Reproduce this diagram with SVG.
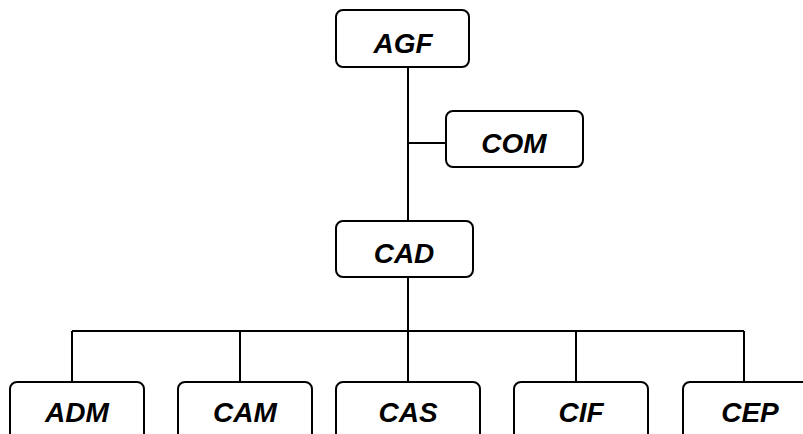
<svg xmlns="http://www.w3.org/2000/svg" width="803" height="434" viewBox="0 0 803 434">
<style>
.box{fill:#fff;stroke:#000;stroke-width:2}
.lbl{font-family:"Liberation Sans",Arial,sans-serif;font-weight:bold;font-style:italic;font-size:28px;text-anchor:middle;fill:#000}
.conn{fill:none;stroke:#000;stroke-width:2}
</style>
<rect width="803" height="434" fill="#fff"/>
<g id="connectors">
<path class="conn" d="M408 67V221M408 143H446M408 277V331M72 331H744M72 331V382M240 331V382M408 331V382M576 331V382M744 331V382"/>
</g>
<g id="AGF"><rect class="box" x="336" y="10" width="133" height="57" rx="7"/><text class="lbl" x="403" y="53">AGF</text></g>
<g id="COM"><rect class="box" x="446" y="111" width="137" height="56" rx="7"/><text class="lbl" x="514" y="153">COM</text></g>
<g id="CAD"><rect class="box" x="336" y="221" width="137" height="56" rx="7"/><text class="lbl" x="404" y="263">CAD</text></g>
<g id="ADM"><rect class="box" x="10" y="382" width="134" height="70" rx="7"/><text class="lbl" x="77" y="422">ADM</text></g>
<g id="CAM"><rect class="box" x="178" y="382" width="134" height="70" rx="7"/><text class="lbl" x="245" y="422">CAM</text></g>
<g id="CAS"><rect class="box" x="336" y="382" width="144" height="70" rx="7"/><text class="lbl" x="408" y="422">CAS</text></g>
<g id="CIF"><rect class="box" x="514" y="382" width="134" height="70" rx="7"/><text class="lbl" x="581" y="422">CIF</text></g>
<g id="CEP"><rect class="box" x="683" y="382" width="134" height="70" rx="7"/><text class="lbl" x="750" y="422">CEP</text></g>
</svg>
